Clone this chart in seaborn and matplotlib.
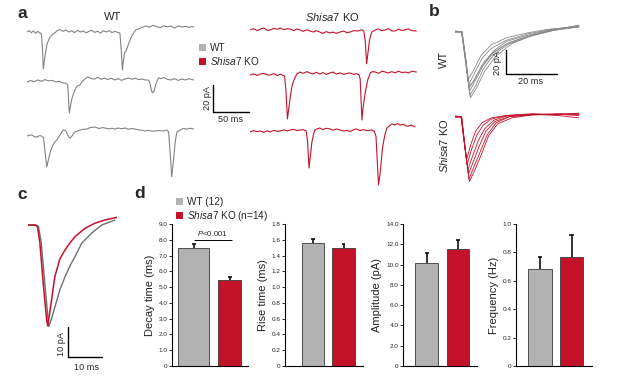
import matplotlib
matplotlib.use("Agg")
import numpy as np
import pandas as pd
import matplotlib.pyplot as plt
from matplotlib.patches import Patch
import seaborn as sns

# ------------------------------------------------------------------ data
groups = ["WT", "Shisa7 KO"]
decay_mean = [7.47, 5.47]
decay_sem = [0.25, 0.19]
rise_mean = [1.56, 1.49]
rise_sem = [0.055, 0.06]
amp_mean = [10.18, 11.54]
amp_sem = [0.93, 0.88]
freq_mean = [0.685, 0.771]
freq_sem = [0.082, 0.149]

decay_ticks = [0, 1, 2, 3, 4, 5, 6, 7, 8, 9]
decay_ticklabels = ["0", "1.0", "2.0", "3.0", "4.0", "5.0", "6.0", "7.0", "8.0", "9.0"]
rise_ticks = [0, 0.2, 0.4, 0.6, 0.8, 1.0, 1.2, 1.4, 1.6, 1.8]
rise_ticklabels = ["0", "0.2", "0.4", "0.6", "0.8", "1.0", "1.2", "1.4", "1.6", "1.8"]
amp_ticks = [0, 2, 4, 6, 8, 10, 12, 14]
amp_ticklabels = ["0", "2.0", "4.0", "6.0", "8.0", "10.0", "12.0", "14.0"]
freq_ticks = [0, 0.2, 0.4, 0.6, 0.8, 1.0]
freq_ticklabels = ["0", "0.2", "0.4", "0.6", "0.8", "1.0"]
p_text = r"$P$<0.001"
p_level = 8.0

# panel a traces (ms, pA)
wt1_t = [0, 3, 6, 9, 12, 15, 18, 19.8, 21.5, 22.7, 24, 25.5, 27.8, 30, 32, 35, 39, 42, 46,
         50, 54, 58, 62, 66, 70, 74, 78, 82, 86, 90, 94, 98, 102, 106, 110, 114, 118, 122, 126, 129,
         131, 132.5, 134, 135.5, 137, 139, 142, 146, 151, 156, 160,
         165, 170, 175, 180, 185, 190, 195, 200, 205, 210, 215, 220, 225, 229, 232]
wt1_i = [0, 1, -0.5, 0.8, -1, 0.5, -0.8, -1, -12, -27.4, -22, -16, -9, -6, -3.7, -2, -0.5, 1, 1.8,
         0.5, 1.5, 0, 1, -0.5, 1.2, 0, 0.8, -0.7, 0.5, 1.2, -0.3, 0.6, -0.8, 0.9, 0, 1, -0.5, 0.5, -0.3, -0.8,
         -14, -28.1, -21, -15, -14.5, -12, -7.4, -2.5, 1.5, 2.5, 3.5,
         4.5, 3.5, 5, 4, 3.2, 4.6, 3.8, 4.4, 3, 4.5, 3.6, 4.2, 3.5, 4, 3.7]

wt2_t = [0, 5, 10, 15, 20, 25, 30, 35, 40, 45, 50, 54,
         56.6, 58.8, 60, 61, 62.5, 64.4, 66, 68, 70, 73.7, 76, 79,
         82, 85, 89, 94, 98, 103, 108, 112, 117, 122, 127, 131, 136, 141, 146, 150, 155, 160, 164, 168,
         170, 172, 174, 176.5, 179, 182.5,
         186, 190, 195, 200, 205, 210, 215, 220, 225, 229, 232]
wt2_i = [0, 1, 0.3, 1.5, 0.5, 1.8, 0.8, 1.2, 0, 0.5, -0.7, -1,
         -2, -23, -19, -16, -12, -8.9, -6.5, -4.4, -3, -2.2, 0, 1.5,
         3, 3.7, 2.5, 2.2, 3.5, 2, 3, 1.8, 2.8, 1.5, 2.5, 1.2, 2.2, 3, 2, 2.8, 1.8, 2.2, 1.5, 1.5,
         0.5, -4, -8.1, -6.7, -1.5, 3,
         2.5, 3.2, 2, 1.5, 2.5, 1.2, 2.2, 1.5, 2.5, 1.8, 1.5]

wt3_t = [0, 4, 7, 10, 14, 17, 20, 23,
         25, 27.4, 29, 30.6, 32.5, 34.3, 37.5, 41.3, 44, 46, 48, 50.5, 52.5, 54, 56, 58, 60, 62.5, 64.5, 66.7,
         70, 73.7, 78, 83, 88, 94.5, 100, 105, 108, 113, 118, 122, 127, 131, 136, 141, 145, 150, 155,
         160, 164, 169, 174, 178, 183, 189, 194.6,
         196.7, 199, 201, 203.5, 205.7, 208,
         212.7, 217, 222, 227, 232]
wt3_i = [-0.7, -0.2, 0, -1.2, -1.5, -0.5, -0.7, -2.2,
         -12, -23.7, -20, -16.3, -12.5, -9.6, -5.9, -3.7, -1.5, 0, 2, 3.7, 3.5, 3, 0.5, -1.5, -2.2, -0.7, 1, 2.2,
         3, 3.7, 4.2, 4.4, 5.5, 5.9, 4.8, 5.5, 5.2, 4.5, 5, 4.4, 5.2, 4.6, 5.2, 4.2, 4.8, 4.4, 3.8,
         3.5, 3, 3.4, 2.8, 3, 3.3, 3, 3.7,
         2.2, -15, -31, -18.5, -5.9, 2.2,
         3.7, 4.8, 4.4, 5, 4.4]

ko1_t = [0, 5, 10, 14, 19, 24, 28, 33, 38, 42, 47, 52, 56, 61, 65, 69.5, 74, 79, 83, 88, 92, 97,
         101, 106, 111, 115, 120, 125, 130, 135, 139, 144, 150, 155, 158,
         160, 162, 164, 166, 169,
         174, 178, 183, 188, 192, 197, 201.5, 206, 211, 215.5, 220, 225, 231]
ko1_i = [0, 1, -0.5, 0.7, 1.5, -0.3, 0, 1.2, 0.5, 1.5, 0.2, 1, 0.7, -0.5, 0.8, 0, -1, 0.2, -0.7, -1.5, -0.5, -1.5,
         -2.5, -1.2, -2.2, -1.5, -2.5, -1.5, -0.8, -2, -1.5, -0.5, -0.7, 0.2, -0.7,
         -8, -25, -16.3, -7.4, -1.5,
         0, 0.8, -0.5, 0, 1, -0.7, -0.7, 0.5, -0.3, 0, 0.8, -0.5, -0.7]

ko2_t = [0, 5, 10, 14, 19, 24, 28, 33, 38, 42, 46, 48,
         50, 52, 55, 58, 61, 65, 69.5,
         74, 79, 83, 88, 92, 97, 101, 106, 111, 115, 120, 125, 130, 135, 139, 144, 148, 151.5,
         153, 155.5, 157, 160, 163.5, 167,
         170, 174, 179, 183, 188, 192, 197, 201.5, 206, 211, 215.5, 220, 225, 231]
ko2_i = [0, 0.8, -0.3, 0.7, 1.2, 0, 0, 1, -0.5, 0.7, -0.3, -0.7,
         -12, -32.6, -20, -8.9, -3.7, 0.7, 2.2,
         1.2, 2.5, 1.5, 0.8, 2, 0.7, 1.8, 0.5, 1.5, 2.2, 0.7, 1.6, 0.5, 1.2, 1.5, 0.5, 1, 0.2,
         -3, -33.3, -24.4, -13.3, -3.7, 1.5,
         2.5, 2.2, 1.2, 2.8, 2.2, 1.5, 2.5, 1.5, 2.8, 1.8, 2.2, 1.5, 2.8, 2.2]

ko3_t = [0, 5, 10, 14, 19, 24, 28, 33, 38, 42, 47, 52, 56, 61, 65, 69.5, 74, 78,
         80, 82, 84, 86, 88, 90,
         93, 97, 101, 106, 111, 115, 120, 125, 130, 135, 139, 144, 148, 153, 157, 160, 164, 168, 172.5,
         175, 178.5, 181, 184, 187, 190, 194,
         197, 201, 205, 208.5, 213, 217, 219.5, 224, 229]
ko3_i = [-0.7, 0.3, -0.5, 0, -1, 0.2, -0.7, 0.5, -0.3, 0, 0.8, 0.2, 0.7, 1.2, 0.3, 0.7, 1, 0,
         -8, -27.4, -17.8, -8.1, -3, 0.7,
         1.5, 2.2, 1, 2, 1.5, 0.6, 1.5, 0.7, 0, 0.5, -0.5, 1, 1.5, 0.3, 1, 0.7, 0.2, 0.8, 0,
         -4, -40, -30, -12.6, -3.7, 2.2, 4,
         5.2, 4.5, 5.5, 4.4, 5, 3.6, 3.7, 4.4, 3]

# panel b overlaid events (ms, pA)
wt_events = [
    ([0, 2.5, 4, 5, 7, 10, 14, 20, 28, 36, 48], [0, 0, -20, -40, -33, -20, -11, -5, -1, 2, 4]),
    ([0, 2.5, 4, 5.3, 7.5, 10.5, 14, 20, 28, 36, 48], [0.5, 0, -22, -44, -35, -22, -14, -7, -2, 1.5, 5]),
    ([0, 2.6, 4.2, 5.5, 7.5, 11, 15, 20, 28, 38, 48], [0, -0.5, -25, -47, -40, -26, -16, -8, -3, 2, 4.5]),
    ([0, 2.7, 4.3, 5.6, 8, 11, 15, 21, 28, 38, 48], [-0.5, 0, -26, -50, -40, -28, -17, -9, -4, 1, 5.5]),
    ([0, 2.6, 4.2, 5.8, 8, 11, 15, 21, 29, 38, 48], [0, 0, -28, -53, -45, -31, -19, -10, -4, 1, 4]),
    ([0, 2.8, 4.5, 6, 8.3, 11.5, 16, 22, 30, 39, 48], [0.5, 0, -30, -55, -47, -33, -20, -10, -3, 2, 5]),
    ([0, 2.7, 4.3, 5.4, 7, 10, 14, 20, 28, 37, 48], [0, -0.5, -24, -45, -42, -30, -19, -10, -4, 1, 4]),
]
ko_events = [
    ([0, 2.3, 3.5, 4.5, 6, 8, 10.5, 14, 20, 30, 40, 48], [0, 0, -20, -36, -24, -12, -5, -1, 1, 2, 2, 2]),
    ([0, 2.4, 3.6, 4.7, 6.3, 8.5, 11, 14, 20, 30, 40, 48], [0.5, 0, -22, -40, -28, -15, -7, -2, 1, 2.5, 1.5, 3]),
    ([0, 2.5, 3.8, 5, 6.8, 9, 11.5, 15, 20, 30, 40, 48], [0, -0.5, -25, -44, -33, -20, -10, -3, 0.5, 2, 2, 1]),
    ([0, 2.5, 3.9, 5.2, 7, 9.5, 12, 15.5, 21, 30, 40, 48], [-0.5, 0, -26, -48, -38, -24, -12, -4, 0, 1.5, 2.5, 2]),
    ([0, 2.6, 4, 5.4, 7.3, 10, 12.5, 16, 21, 30, 40, 48], [0, 0, -28, -52, -42, -28, -15, -5, 0, 2, 1, -1]),
    ([0, 2.5, 4.2, 5.6, 7.8, 10.5, 13, 16.5, 22, 30, 40, 48], [0.5, 0, -30, -54, -44, -30, -16, -6, -1, 1.5, 2, 2.5]),
]

# panel c averaged events (ms, pA)
c_wt_t = [0, 2.3, 3, 3.8, 4.8, 5.8, 6.0, 6.8, 7.85, 9.3, 10.8, 12.3, 13.7, 15.7, 18.6, 21.6, 25.5]
c_wt_i = [0, 0, -0.6, -6, -19, -32, -34.5, -32, -27.8, -22, -17.6, -13.8, -10.8, -6.2, -2.8, 0, 1.7]
c_ko_t = [0, 2, 2.7, 3.4, 4.4, 5.4, 5.7, 6.4, 7.8, 9.3, 10.8, 12.3, 13.7, 16.7, 19.6, 22.5, 26]
c_ko_i = [0, 0, -0.6, -6, -20, -32.3, -34.3, -29, -17.6, -11.5, -8.5, -6, -4, -1.1, 0.6, 1.7, 2.6]

# ------------------------------------------------------------------ style
sns.set_style("white")
plt.rcParams["font.family"] = ["Liberation Sans", "DejaVu Sans"]
plt.rcParams["mathtext.fontset"] = "custom"
plt.rcParams["mathtext.rm"] = "Liberation Sans"
plt.rcParams["mathtext.it"] = "Liberation Sans:italic"
plt.rcParams["mathtext.bf"] = "Liberation Sans:bold"

GRAY_TRACE = "#838383"
RED = "#c4122a"
GRAY_BAR = "#b2b2b2"
EDGE = "#3a3a3a"

W, H = 617, 387
fig = plt.figure(figsize=(W / 100, H / 100), dpi=100)


def rect(x0, y0, x1, y1):
    return [x0 / W, 1 - y1 / H, (x1 - x0) / W, (y1 - y0) / H]


def ftext(x, y, s, **kw):
    fig.text(x / W, 1 - y / H, s, **kw)


def trace_axes(x0, base_y, t_max, ms_px, pa_px, up, down):
    x1 = x0 + t_max / ms_px
    ax = fig.add_axes(rect(x0, base_y - up, x1, base_y + down))
    ax.set_xlim(0, t_max)
    ax.set_ylim(-down * pa_px, up * pa_px)
    ax.axis("off")
    return ax


def draw_trace(ax, t, i, color, lw):
    sns.lineplot(x=t, y=i, ax=ax, color=color, lw=lw, sort=False, estimator=None)


# ------------------------------------------------------------------ panel a
A_MS, A_PA = 50 / 36, 20 / 27
rows_wt = [(32, wt1_t, wt1_i), (82, wt2_t, wt2_i), (135, wt3_t, wt3_i)]
rows_ko = [(30, ko1_t, ko1_i), (75, ko2_t, ko2_i), (131, ko3_t, ko3_i)]
a_axes = []
for base, t, i in rows_wt:
    ax = trace_axes(27, base, 232, A_MS, A_PA, 15, 60)
    draw_trace(ax, t, i, GRAY_TRACE, 0.8)
    ax.set_xlim(0, 232); ax.set_ylim(-60 * A_PA, 15 * A_PA)
    a_axes.append(ax)
for base, t, i in rows_ko:
    ax = trace_axes(250, base, 232, A_MS, A_PA, 15, 60)
    draw_trace(ax, t, i, RED, 0.8)
    ax.set_xlim(0, 232); ax.set_ylim(-60 * A_PA, 15 * A_PA)

# scale bar a (20 pA, 50 ms)
sb = a_axes[1]
sb.plot([258.8, 258.8, 308.8], [-2.0, -22.0, -22.0], color="black", lw=1.0, clip_on=False)
ftext(207, 98, "20 pA", rotation=90, ha="center", va="center", fontsize=6.6)
ftext(230, 119, "50 ms", ha="center", va="center", fontsize=6.6)

ftext(113, 17, "WT", ha="center", va="center", fontsize=8)
ftext(332, 17, r"$\it{Shisa7}$ KO", ha="center", va="center", fontsize=8)

fig.legend(handles=[Patch(facecolor=GRAY_BAR, edgecolor="none"), Patch(facecolor=RED, edgecolor="none")],
           labels=["WT", r"$\it{Shisa7}$ KO"], loc="upper left",
           bbox_to_anchor=(199 / W, 1 - 43 / H), frameon=False, fontsize=7.2,
           handlelength=0.7, handleheight=0.7, handletextpad=0.4, labelspacing=0.2,
           borderpad=0, borderaxespad=0)

# ------------------------------------------------------------------ panel b
B_MS, B_PA = 20 / 51.6, 20 / 24
axb1 = trace_axes(455, 31.7, 48.5, B_MS, B_PA, 10, 70)
for t, i in wt_events:
    draw_trace(axb1, t, i, "#8a8a8a", 0.6)
axb1.set_xlim(0, 48.5); axb1.set_ylim(-70 * B_PA, 10 * B_PA)
axb1.plot([19.7, 19.7, 39.7], [-15.2, -35.2, -35.2], color="black", lw=1.0, clip_on=False)
axb2 = trace_axes(455, 116.7, 48.5, B_MS, B_PA, 10, 70)
for t, i in ko_events:
    draw_trace(axb2, t, i, RED, 0.6)
axb2.set_xlim(0, 48.5); axb2.set_ylim(-70 * B_PA, 10 * B_PA)

ftext(444, 59, "WT", rotation=90, ha="center", va="center", fontsize=8)
ftext(444, 146, r"$\it{Shisa7}$ KO", rotation=90, ha="center", va="center", fontsize=8)
ftext(498, 63, "20 pA", rotation=90, ha="center", va="center", fontsize=6.6)
ftext(531, 82, "20 ms", ha="center", va="center", fontsize=6.6)

# ------------------------------------------------------------------ panel c
C_MS, C_PA = 10 / 34, 10 / 29.4
axc = trace_axes(28.3, 225, 26.1, C_MS, C_PA, 12, 140)
draw_trace(axc, c_wt_t, c_wt_i, "#6e6e6e", 1.0)
draw_trace(axc, c_ko_t, c_ko_i, RED, 1.1)
axc.set_xlim(0, 26.1); axc.set_ylim(-140 * C_PA, 12 * C_PA)
axc.plot([11.8, 11.8, 21.8], [-34.8, -44.8, -44.8], color="black", lw=1.0, clip_on=False)
ftext(61, 344, "10 pA", rotation=90, ha="center", va="center", fontsize=6.6)
ftext(86, 367, "10 ms", ha="center", va="center", fontsize=6.6)

# ------------------------------------------------------------------ panel d
def bar_panel(x0, x1, xlim, means, sems, ylim, ticks, ticklabels, ylabel, width, cap):
    ax = fig.add_axes(rect(x0, 224, x1, 366))
    df = pd.DataFrame({"group": groups, "value": means})
    sns.barplot(data=df, x="group", y="value", hue="group", palette=[GRAY_BAR, RED],
                saturation=1, width=width, edgecolor=EDGE, linewidth=0.6, ax=ax,
                legend=False, errorbar=None, zorder=2)
    tops = [m + s for m, s in zip(means, sems)]
    ax.vlines([0, 1], means, tops, color="#111111", lw=1.2, zorder=3)
    ax.hlines(tops, [-cap, 1 - cap], [cap, 1 + cap], color="#111111", lw=1.2, zorder=3)
    ax.set_xlim(*xlim)
    ax.set_ylim(*ylim)
    ax.set_yticks(ticks)
    ax.set_yticklabels(ticklabels)
    ax.set_xticks([])
    ax.set_xlabel("")
    ax.set_ylabel(ylabel, fontsize=8, labelpad=3, color="#222222")
    ax.tick_params(axis="y", length=2, width=0.6, labelsize=4.6, pad=1, left=True, color="black")
    sns.despine(ax=ax)
    for sp in ("left", "bottom"):
        ax.spines[sp].set_color("black")
        ax.spines[sp].set_linewidth(0.8)
    return ax


ax1 = bar_panel(172, 248, (-0.6, 1.51), decay_mean, decay_sem, (0, 9), decay_ticks,
                decay_ticklabels, "Decay time (ms)", 0.64, 0.055)
p0 = ax1.patches[0]
p0.set_x(-0.43)
p0.set_width(0.86)
ax1.hlines(p_level, 0.0, 1.07, color="black", lw=0.7)
ax1.text(0.53, p_level + 0.12, p_text, ha="center", va="bottom", fontsize=5.6)

bar_panel(285, 363, (-0.92, 1.64), rise_mean, rise_sem, (0, 1.8), rise_ticks,
          rise_ticklabels, "Rise time (ms)", 0.73, 0.065)
bar_panel(403, 477, (-0.75, 1.6), amp_mean, amp_sem, (0, 14), amp_ticks,
          amp_ticklabels, "Amplitude (pA)", 0.72, 0.065)
bar_panel(516, 592, (-0.76, 1.65), freq_mean, freq_sem, (0, 1.0), freq_ticks,
          freq_ticklabels, "Frequency (Hz)", 0.74, 0.065)

fig.legend(handles=[Patch(facecolor=GRAY_BAR, edgecolor="none"), Patch(facecolor=RED, edgecolor="none")],
           labels=["WT (12)", r"$\it{Shisa7}$ KO (n=14)"], loc="upper left",
           bbox_to_anchor=(176 / W, 1 - 197 / H), frameon=False, fontsize=7.2,
           handlelength=0.7, handleheight=0.7, handletextpad=0.4, labelspacing=0.15,
           borderpad=0, borderaxespad=0)

# panel letters
for x, y, s in [(22, 14, "a"), (434, 12, "b"), (22, 194, "c"), (140, 193, "d")]:
    ftext(x, y, s, ha="center", va="center", fontsize=12.5, fontweight="bold")

fig.savefig("out.png", dpi=100)
